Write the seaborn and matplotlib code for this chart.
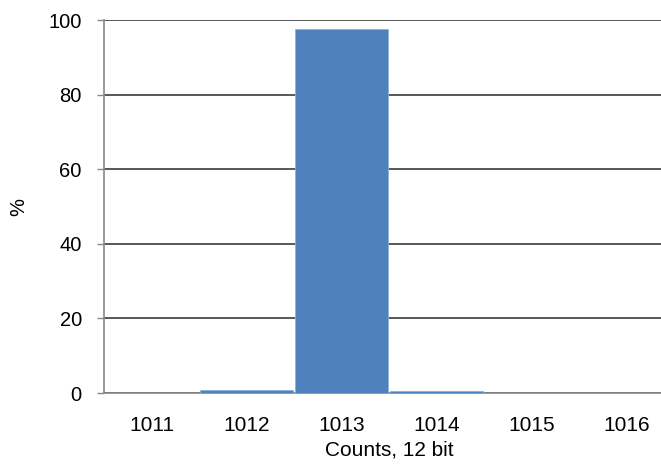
import pandas as pd
import matplotlib
matplotlib.use("Agg")
import matplotlib.pyplot as plt
import seaborn as sns

counts = ["1011", "1012", "1013", "1014", "1015", "1016"]
percent = [0.0, 0.9, 97.7, 0.5, 0.0, 0.0]
y_ticks = [0, 20, 40, 60, 80, 100]

df = pd.DataFrame({"Counts": counts, "Percent": percent})

sns.set_style("white")
plt.rcParams["font.family"] = ["Liberation Sans", "DejaVu Sans"]
plt.rcParams["text.color"] = "black"
plt.rcParams["axes.labelcolor"] = "black"
plt.rcParams["xtick.color"] = "black"
plt.rcParams["ytick.color"] = "black"

fig = plt.figure(figsize=(6.61, 4.65), dpi=100)
# plot area runs slightly past the right edge, as in the original crop
ax = fig.add_axes([104 / 661, 72 / 465, 570 / 661, 373 / 465])

sns.barplot(data=df, x="Counts", y="Percent", order=counts, color="#4F81BD",
            saturation=1, width=0.975, edgecolor="#8EB1DA", linewidth=0.6,
            ax=ax, zorder=3)

ax.set_ylim(0, 100)
ax.set_yticks(y_ticks)
ax.set_xlim(-0.5, len(counts) - 0.5)
ax.yaxis.grid(True, color="#2a2a2a", linewidth=1.1, zorder=0)
ax.set_axisbelow(True)

for s in ["top", "right"]:
    ax.spines[s].set_visible(False)
ax.spines["left"].set_color("#888888")
ax.spines["bottom"].set_color("#888888")
ax.spines["left"].set_linewidth(1.2)
ax.spines["bottom"].set_linewidth(1.2)

ax.tick_params(axis="y", which="major", left=True, length=5, width=1,
               color="#888888", labelcolor="black", labelsize=14.5, pad=11)
ax.tick_params(axis="x", bottom=False, labelcolor="black", labelsize=15, pad=13)

ax.set_xlabel("Counts, 12 bit", fontsize=15, labelpad=4)
ax.set_ylabel("%", fontsize=14.5)
ax.yaxis.set_label_coords(-0.133, 0.5)

fig.savefig("out.png", dpi=100)
plt.close(fig)
